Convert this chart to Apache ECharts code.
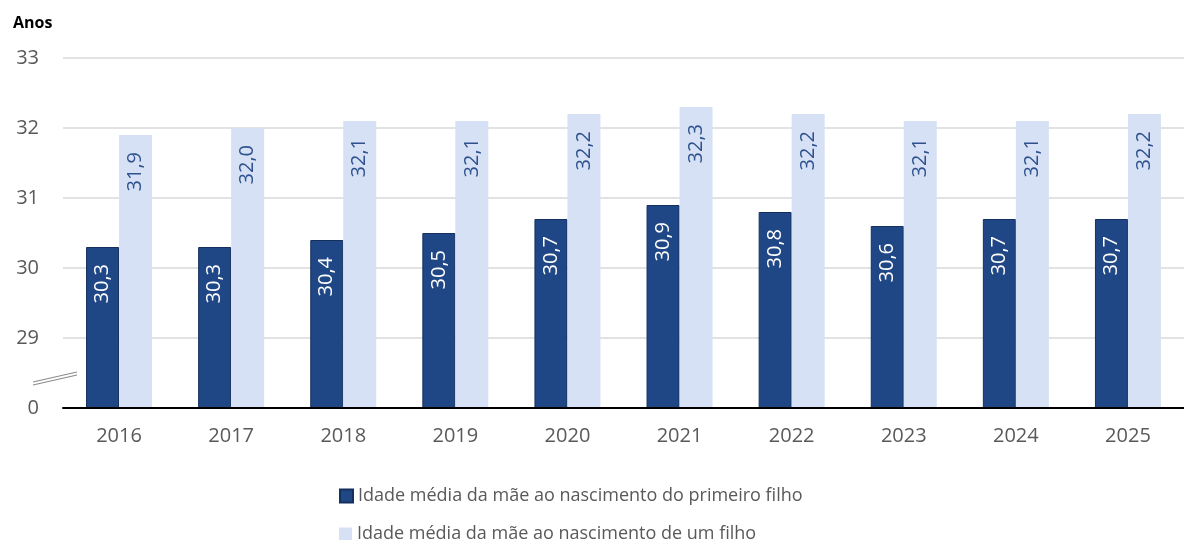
<!DOCTYPE html>
<html>
<head>
<meta charset="utf-8">
<script src="https://cdn.jsdelivr.net/npm/echarts@6/dist/echarts.min.js"></script>
<style>
  html, body { margin: 0; padding: 0; background: #fff; }
  #chart { width: 1184px; height: 540px; }
</style>
</head>
<body>
<div id="chart"></div>
<script>
// dados
const anos = ["2016", "2017", "2018", "2019", "2020", "2021", "2022", "2023", "2024", "2025"];
const primeiroFilho = [30.3, 30.3, 30.4, 30.5, 30.7, 30.9, 30.8, 30.6, 30.7, 30.7];
const umFilho = [31.9, 32.0, 32.1, 32.1, 32.2, 32.3, 32.2, 32.1, 32.1, 32.2];
const nomes = [
  "Idade média da mãe ao nascimento do primeiro filho",
  "Idade média da mãe ao nascimento de um filho"
];

const fonte = "'Open Sans', 'DejaVu Sans', sans-serif";
const fmt = (v) => v.toFixed(1).replace(".", ",");

const myChart = echarts.init(document.getElementById("chart"));

// uma legenda por linha
const legenda = (nome, top) => ({
  left: 334,
  top: top,
  itemWidth: 13,
  itemHeight: 13,
  icon: "rect",
  textStyle: { fontSize: 18, color: "#595959", fontFamily: fonte },
  data: [nome]
});

const rotulo = (cor) => ({
  show: true,
  position: "insideTop",
  distance: 17,
  rotate: 90,
  align: "right",
  verticalAlign: "middle",
  fontSize: 20,
  color: cor,
  formatter: (p) => fmt(p.value)
});

const option = {
  animation: false,
  textStyle: { fontFamily: fonte },
  title: {
    text: "Anos",
    left: 8,
    top: 10,
    textStyle: { fontSize: 16, fontWeight: "bold", color: "#000", fontFamily: fonte }
  },
  grid: { left: 63, top: 58, width: 1135, height: 350 },
  legend: [legenda(nomes[0], 482), legenda(nomes[1], 520)],
  xAxis: {
    type: "category",
    data: anos,
    z: 5,
    axisLine: { lineStyle: { color: "#000", width: 2 } },
    axisTick: { show: false },
    axisLabel: { fontSize: 20, color: "#595959", margin: 18 }
  },
  yAxis: {
    type: "value",
    min: 28,
    max: 33,
    interval: 1,
    axisLine: { show: false },
    axisTick: { show: false },
    axisLabel: {
      fontSize: 20,
      color: "#595959",
      margin: 24,
      formatter: (v) => (v === 28 ? "0" : String(v))
    },
    splitLine: {
      lineStyle: { color: "#d9d9d9", width: 1.5 },
      showMinLine: false
    }
  },
  series: [
    {
      name: nomes[0],
      type: "bar",
      data: primeiroFilho,
      barWidth: 33,
      barGap: "0%",
      itemStyle: { color: "#1f4685", borderColor: "#15305e", borderWidth: 1 },
      label: rotulo("#fff")
    },
    {
      name: nomes[1],
      type: "bar",
      data: umFilho,
      barWidth: 33,
      itemStyle: { color: "#d6e1f5" },
      label: rotulo("#2f528f")
    }
  ],
  // marca de quebra do eixo
  graphic: [
    {
      type: "line",
      shape: { x1: 33, y1: 382, x2: 77, y2: 372 },
      style: { stroke: "#8c8c8c", lineWidth: 1.2 }
    },
    {
      type: "line",
      shape: { x1: 33, y1: 385, x2: 77, y2: 375 },
      style: { stroke: "#8c8c8c", lineWidth: 1.2 }
    }
  ]
};

myChart.setOption(option);
</script>
</body>
</html>
